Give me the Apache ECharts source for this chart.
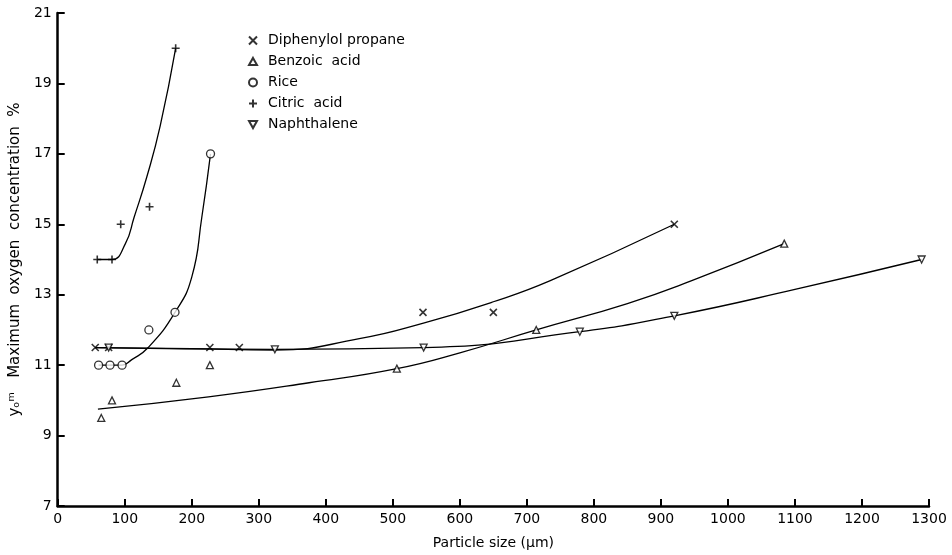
<!DOCTYPE html>
<html style="height: 100%">
<head>
  <meta charset="utf-8">
  <script src="https://cdn.jsdelivr.net/npm/echarts@6/dist/echarts.min.js"></script>
</head>
<body style="height: 100%; margin: 0; background: #fff">
<div id="chart" style="width: 952px; height: 555px"></div>
<script type="text/javascript">
// measured points (particle size in um, y_o^m in %)
var dipX = [56, 76, 227, 271, 545, 650, 920];
var dipY = [11.5, 11.5, 11.5, 11.5, 12.5, 12.5, 15];
var benX = [65, 81, 177, 227, 506, 714, 1084];
var benY = [9.5, 10, 10.5, 11, 10.9, 12, 14.45];
var riceX = [61, 78, 96, 136, 175, 228];
var riceY = [11, 11, 11, 12, 12.5, 17];
var citX = [59, 81, 94, 137, 176];
var citY = [14, 14, 15, 15.5, 20];
var napX = [76, 324, 546, 779, 920, 1289];
var napY = [11.5, 11.45, 11.5, 11.95, 12.4, 14];

// hand drawn fitted curves
var dipFitX = [56, 200, 323, 450, 547, 650, 735, 920];
var dipFitY = [11.5, 11.47, 11.43, 11.75, 12.2, 12.8, 13.4, 15];
var benFitX = [60, 225, 375, 506, 600, 714, 850, 946, 1084];
var benFitY = [9.75, 10.1, 10.5, 10.9, 11.35, 12, 12.75, 13.4, 14.45];
var riceFitX = [61, 96, 110, 135, 175, 200, 215, 228];
var riceFitY = [11, 11, 11.15, 11.5, 12.5, 13.5, 15.2, 17];
var citFitX = [59, 81, 101, 114, 133, 153, 176];
var citFitY = [14, 14, 14.45, 15.2, 16.35, 17.8, 20];
var napFitX = [56, 323, 546, 779, 920, 1100, 1289];
var napFitY = [11.5, 11.45, 11.5, 11.95, 12.4, 13.15, 14];

var names = ['Diphenylol propane', 'Benzoic  acid', 'Rice', 'Citric  acid', 'Naphthalene'];

function pairs(xs, ys) {
  var out = [];
  for (var i = 0; i < xs.length; i++) out.push([xs[i], ys[i]]);
  return out;
}

var crossPath = 'path://M0,0L10,10M10,0L0,10';
var plusPath = 'path://M5,0L5,10M0,5L10,5';
var downTri = 'path://M0,0L10,0L5,9Z';
var upTri = 'path://M5,0L10,9L0,9Z';

var hollow = { color: '#fff', borderColor: '#000', borderWidth: 1.3 };
var stroked = { color: '#000', borderColor: '#000', borderWidth: 1.6 };

function pts(name, xs, ys, symbol, size, style) {
  return {
    name: name, type: 'scatter', data: pairs(xs, ys),
    symbol: symbol, symbolSize: size, itemStyle: style, z: 3
  };
}
function fit(xs, ys) {
  return {
    type: 'line', data: pairs(xs, ys), showSymbol: false, smooth: 0.5,
    lineStyle: { color: '#000', width: 1.3 }, z: 2, silent: true
  };
}

var myChart = echarts.init(document.getElementById('chart'));
var option = {
  animation: false,
  backgroundColor: '#fff',
  textStyle: { fontFamily: 'DejaVu Sans', color: '#000' },
  grid: { left: 51, right: 23, top: 13, bottom: 49 },
  legend: {
    data: names,
    orient: 'vertical',
    left: 243, top: 28,
    itemWidth: 8, itemHeight: 8, itemGap: 6,
    textStyle: { fontSize: 14, color: '#000', lineHeight: 15, padding: [0, 0, 0, 6] }
  },
  xAxis: {
    type: 'value', min: 0, max: 1300, interval: 100,
    name: 'Particle size (\u00b5m)', nameLocation: 'middle', nameGap: 30,
    nameTextStyle: { fontSize: 14, color: '#000' },
    axisLine: { lineStyle: { color: '#000', width: 2.5 } },
    axisTick: { inside: true, length: 7, lineStyle: { color: '#000', width: 2 } },
    axisLabel: { fontSize: 14, color: '#000', margin: 6, formatter: function (v) { return String(v); } },
    splitLine: { show: false }
  },
  yAxis: {
    type: 'value', min: 7, max: 21, interval: 2,
    name: 'y\u2092\u1d50   Maximum  oxygen  concentration  %', nameLocation: 'middle', nameGap: 30,
    nameTextStyle: { fontSize: 15, color: '#000' },
    axisLine: { lineStyle: { color: '#000', width: 2.5 } },
    axisTick: { inside: true, length: 7, lineStyle: { color: '#000', width: 2 } },
    axisLabel: { fontSize: 14, color: '#000', margin: 6 },
    splitLine: { show: false }
  },
  series: [
    fit(dipFitX, dipFitY),
    fit(benFitX, benFitY),
    fit(riceFitX, riceFitY),
    fit(citFitX, citFitY),
    fit(napFitX, napFitY),
    pts(names[0], dipX, dipY, crossPath, 7, stroked),
    pts(names[1], benX, benY, upTri, 7, hollow),
    pts(names[2], riceX, riceY, 'circle', 8, hollow),
    pts(names[3], citX, citY, plusPath, 8, stroked),
    pts(names[4], napX, napY, downTri, 7, hollow)
  ]
};
myChart.setOption(option);
</script>
</body>
</html>
